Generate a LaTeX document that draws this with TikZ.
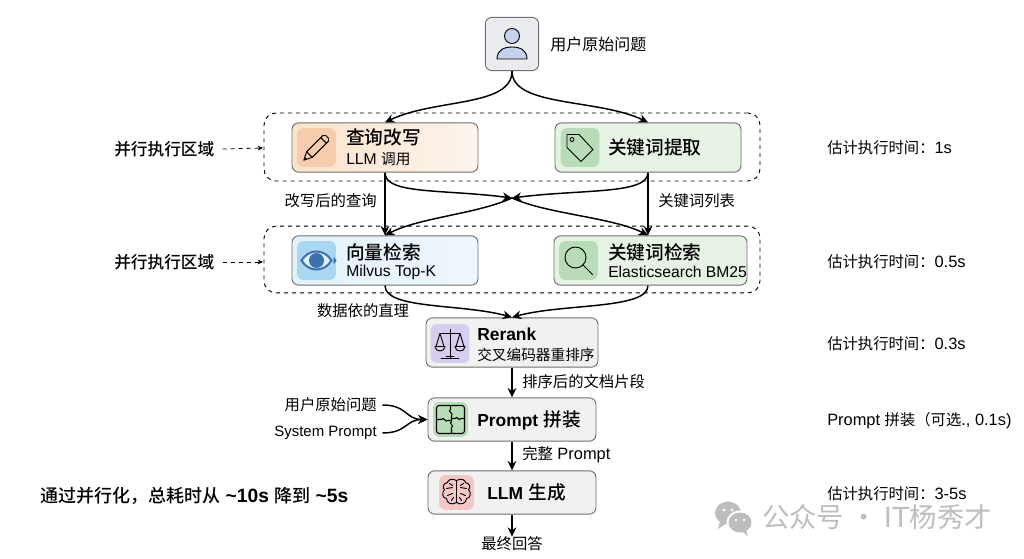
\documentclass[tikz,border=0pt]{standalone}
\usepackage{fontspec}
\usepackage{tikz}
\usetikzlibrary{arrows.meta}
\setmainfont[Scale=1.07]{Liberation Sans}
\newfontfamily\cjk[BoldFont={Noto Sans CJK SC Medium}]{Noto Sans CJK SC}
\newcommand{\zh}[1]{{\cjk #1}}
\newcommand{\en}[1]{{\fontsize{12.2}{14}\selectfont #1}}
\definecolor{edgegray}{HTML}{6E6E6E}
\definecolor{boxgray}{HTML}{F1F1F1}
\definecolor{boxuser}{HTML}{EBECF0}
\definecolor{boxorange}{HTML}{FBEDE0}
\definecolor{boxgreen}{HTML}{E6F2E4}
\definecolor{boxblue}{HTML}{E2F1FA}
\definecolor{iconorange}{HTML}{F5CDAC}
\definecolor{icongreen}{HTML}{B9DCB8}
\definecolor{iconblue}{HTML}{A9D6F1}
\definecolor{iconpurple}{HTML}{D7CDEE}
\definecolor{iconred}{HTML}{F4C6C6}
\definecolor{personblue}{HTML}{C5D2EE}
\definecolor{eyeblue}{HTML}{3F70AE}
\definecolor{markgray}{HTML}{BDBDBD}
\tikzset{
	box/.style={draw=edgegray, line width=0.7pt, rounded corners=5pt, inner sep=0pt},
	region/.style={draw=black, dashed, line width=0.7pt, rounded corners=9pt, minimum width=372pt, inner sep=0pt},
	iconbg/.style={rounded corners=4pt, minimum width=29pt, minimum height=29pt, inner sep=0pt},
	title/.style={anchor=west, inner sep=0pt, font=\fontsize{14}{16}\selectfont\bfseries},
	subtitle/.style={anchor=west, inner sep=0pt, font=\fontsize{11}{13}\selectfont},
	note/.style={anchor=west, inner sep=0pt, font=\fontsize{11.5}{13}\selectfont},
	label/.style={inner sep=0pt, font=\fontsize{11.5}{13}\selectfont},
	side/.style={anchor=west, inner sep=0pt, font=\fontsize{12.5}{15}\selectfont\bfseries},
	flow/.style={-{Stealth[length=7pt,width=6.5pt]}, line width=1.1pt},
	hint/.style={-{Stealth[length=4pt,width=3.5pt]}, dashed, line width=0.6pt},
	glyph/.style={line width=0.7pt, line join=round, line cap=round}
}
\begin{document}
\begin{tikzpicture}[x=0.75pt, y=-0.75pt]
	\useasboundingbox (0,0) rectangle (1024,559);

	\node[region, minimum height=51pt] (rega) at (512,147) {};
	\node[region, minimum height=50pt] (regb) at (512,259.5) {};

	\node[box, fill=boxuser, minimum width=40pt, minimum height=40pt] (user) at (512,44) {};
	\node[box, left color=boxorange!90!orange, right color=boxorange!60!white, minimum width=139.5pt, minimum height=37pt] (rewrite) at (385,147.5) {};
	\node[box, fill=boxgreen, minimum width=139.5pt, minimum height=37pt] (keyword) at (648,147.5) {};
	\node[box, left color=boxblue, right color=boxblue!60!white, minimum width=139.5pt, minimum height=37pt] (vector) at (385,260.5) {};
	\node[box, fill=boxgreen, minimum width=144.75pt, minimum height=37pt] (kwsearch) at (650.5,260.5) {};
	\node[box, fill=boxgray, minimum width=129pt, minimum height=37pt] (rerank) at (512,342.5) {};
	\node[box, fill=boxgray, minimum width=126pt, minimum height=32.5pt] (prompt) at (512,419.5) {};
	\node[box, fill=boxgray, minimum width=126pt, minimum height=32.5pt] (llm) at (512,492.5) {};

	\node[iconbg, fill=iconorange] (icona) at (316.5,147.5) {};
	\node[iconbg, fill=icongreen] (iconb) at (580,147.5) {};
	\node[iconbg, fill=iconblue] (iconc) at (316.5,260.5) {};
	\node[iconbg, fill=icongreen] (icond) at (578.5,260.5) {};
	\node[iconbg, fill=iconpurple] (icone) at (450,343.5) {};
	\node[iconbg, fill=icongreen, minimum width=26pt, minimum height=26pt] (iconf) at (450.5,419.5) {};
	\node[iconbg, fill=iconred, minimum width=26pt, minimum height=26pt] (icong) at (456.5,492.5) {};

	% person
	\begin{scope}[shift={(512,44)}, glyph]
		\draw[fill=personblue] (0,-8) circle (7.5);
		\draw[fill=personblue] (-15,15) .. controls (-15,6) and (-8,3) .. (0,3) .. controls (8,3) and (15,6) .. (15,15) -- cycle;
	\end{scope}
	% pencil
	\begin{scope}[shift={(icona)}, glyph, rotate=45]
		\draw (-18,0) -- (-10,-4) -- (13,-4) -- (15,-2) -- (15,2) -- (13,4) -- (-10,4) -- cycle;
		\draw (-10,-4) -- (-10,4) (10,-4) -- (10,4);
		\fill (-18,0) -- (-15,-1.5) -- (-15,1.5) -- cycle;
	\end{scope}
	% tag
	\begin{scope}[shift={(iconb)}, glyph]
		\draw (-13,-13) -- (-1,-13) -- (13,2) -- (1,14) -- (-13,0) -- cycle;
		\draw (-8,-8) circle (2);
	\end{scope}
	% eye
	\begin{scope}[shift={(iconc)}]
		\fill[iconblue!40!white] (-15,0) .. controls (-8,-12) and (8,-12) .. (15,0) .. controls (8,12) and (-8,12) .. (-15,0) -- cycle;
		\draw[eyeblue, line width=1.5pt] (-15,0) .. controls (-8,-12) and (8,-12) .. (15,0) .. controls (8,12) and (-8,12) .. (-15,0) -- cycle;
		\fill[eyeblue] (0,0) circle (7.5);
		\fill[eyeblue] (17,-4) -- (20,0) -- (17,4) -- cycle;
	\end{scope}
	% magnifier
	\begin{scope}[shift={(icond)}, glyph]
		\draw (-3,-3) circle (10.5);
		\draw (4.5,4.5) -- (14,14);
	\end{scope}
	% scales
	\begin{scope}[shift={(icone)}, glyph]
		\draw (0,-14) -- (0,14) (-9,15) -- (9,15) (-4,13) -- (4,13);
		\draw (-10,-10) -- (10,-10);
		\draw (-14,3) -- (-10,-10) -- (-6,3) (14,3) -- (10,-10) -- (6,3);
		\draw (-15,3) -- (-5,3) .. controls (-5,9) and (-15,9) .. (-15,3);
		\draw (5,3) -- (15,3) .. controls (15,9) and (5,9) .. (5,3);
	\end{scope}
	% puzzle
	\begin{scope}[shift={(iconf)}, glyph, line width=0.8pt]
		\draw[rounded corners=2pt] (-14,-14) rectangle (14,14);
		\draw (0,-14) -- (0,-10) .. controls (-4,-8) and (4,-6) .. (1,-4) -- (1,2) .. controls (-3,4) and (5,6) .. (1,8) -- (1,14);
		\draw (-14,0) -- (-9,0) .. controls (-8,-4) and (-4,4) .. (-3,1) -- (1,1);
		\draw (1,-1) -- (5,-1) .. controls (6,-5) and (9,3) .. (10,-1) -- (14,-1);
	\end{scope}
	% brain
	\begin{scope}[shift={(icong)}, glyph]
		\draw (0,-12) .. controls (-5,-15) and (-9,-12) .. (-9,-10) .. controls (-14,-9) and (-14,-4) .. (-12,-3) .. controls (-15,0) and (-14,6) .. (-10,6) .. controls (-10,11) and (-4,13) .. (0,10);
		\draw (0,-12) .. controls (5,-15) and (9,-12) .. (9,-10) .. controls (14,-9) and (14,-4) .. (12,-3) .. controls (15,0) and (14,6) .. (10,6) .. controls (10,11) and (4,13) .. (0,10);
		\draw (0,-12) -- (0,10);
		\draw (-10,-4) -- (-4,-5) (-9,3) -- (-4,1) (-7,-9) -- (-4,-7) (-5,8) -- (-3,5);
		\draw (10,-4) -- (4,-5) (9,3) -- (4,1) (7,-9) -- (4,-7) (5,8) -- (3,5);
	\end{scope}

	\node[note, font=\fontsize{12}{14}\selectfont] (userlab) at (550,44) {\zh{用户原始问题}};
	\node[title] (ta) at (346,137) {\zh{查询改写}};
	\node[subtitle] (sa) at (346,159) {LLM \zh{调用}};
	\node[title] (tb) at (608,147.5) {\zh{关键词提取}};
	\node[title] (tc) at (346,252) {\zh{向量检索}};
	\node[subtitle] (sc) at (346,272) {Milvus Top-K};
	\node[title] (td) at (608,252) {\zh{关键词检索}};
	\node[subtitle] (sd) at (608,272) {Elasticsearch BM25};
	\node[title] (te) at (477,334) {\en{Rerank}};
	\node[subtitle] (se) at (477,355) {\zh{交叉编码器重排序}};
	\node[title] (tf) at (477,420) {\en{Prompt} \zh{拼装}};
	\node[title] (tg) at (487,492.5) {\en{LLM} \zh{生成}};

	\node[side] (para) at (114,149) {\zh{并行执行区域}};
	\node[side] (parb) at (114,262) {\zh{并行执行区域}};
	\coordinate (heada) at (263,148);
	\coordinate (headb) at (263,262);
	\draw[hint] (para.east) ++(8,0) -- (heada);
	\draw[hint] (parb.east) ++(8,0) -- (headb);

	\node[note] (tima) at (827,148) {\zh{估计执行时间：}1s};
	\node[note] (timb) at (827,262) {\zh{估计执行时间：}0.5s};
	\node[note] (timc) at (827,344) {\zh{估计执行时间：}0.3s};
	\node[note] (timd) at (827,421) {Prompt \zh{拼装（可选}., 0.1s)};
	\node[note] (time) at (827,494) {\zh{估计执行时间：}3-5s};

	\node[label, anchor=east] (labq) at (377,201) {\zh{改写后的查询}};
	\node[label, anchor=west] (labk) at (658,201) {\zh{关键词列表}};
	\node[label] (labd) at (363,311) {\zh{数据依的直理}};
	\node[label, anchor=west] (labs) at (522,382) {\zh{排序后的文档片段}};
	\node[label, anchor=west] (labp) at (522,455) {\zh{完整} Prompt};
	\node[label] (answer) at (512,544) {\zh{最终回答}};
	\node[label, anchor=east] (inq) at (377,405) {\zh{用户原始问题}};
	\node[label, anchor=east, font=\fontsize{10.5}{13}\selectfont] (ins) at (377,433) {System Prompt};

	\node[side, font=\fontsize{13.5}{16}\selectfont\bfseries] (summary) at (40,496) {\zh{通过并行化，总耗时从} \textasciitilde 10s \zh{降到} \textasciitilde 5s};

	% watermark
	\begin{scope}[shift={(733,517)}, markgray]
		\fill (-5,-4) ellipse (13 and 11.5);
		\fill (-13,4) -- (-15,12) -- (-6,6) -- cycle;
		\fill[white] (7,5.5) ellipse (13.5 and 12);
		\fill (7,5.5) ellipse (11.5 and 10);
		\fill (13,13) -- (15,19) -- (8,14) -- cycle;
		\fill[white] (-9,-7) circle (1.6) (-1,-7) circle (1.6) (3,3) circle (1.4) (11,3) circle (1.4);
	\end{scope}
	\node[anchor=west, inner sep=0pt, text=markgray, font=\fontsize{20.5}{25}\selectfont] (mark) at (762,517) {\zh{公众号 · }IT\zh{杨秀才}};

	% connectors
	\draw[flow] (user.south) .. controls +(0,36) and +(50,-24) .. (rewrite.north);
	\draw[flow] (user.south) .. controls +(0,36) and +(-50,-24) .. (keyword.north);
	\draw[flow] (rewrite.south) -- (rewrite |- vector.north);
	\draw[flow] (keyword.south) -- (keyword |- kwsearch.north);
	\coordinate (cross) at (512,198);
	\draw[flow] (rewrite.south) .. controls +(0,22) and +(-70,-9) .. (cross);
	\draw[flow] (keyword.south) .. controls +(0,22) and +(70,-9) .. (cross);
	\draw[flow] (cross) .. controls +(-35,16) and +(35,-18) .. (rewrite |- vector.north);
	\draw[flow] (cross) .. controls +(35,16) and +(-35,-18) .. (keyword |- kwsearch.north);
	\draw[flow] (vector.south) .. controls +(0,24) and +(-50,-14) .. (rerank.north);
	\draw[flow] (keyword |- kwsearch.south) .. controls +(0,24) and +(50,-14) .. (rerank.north);
	\draw[flow] (rerank.south) -- (prompt.north);
	\draw[flow] (prompt.south) -- (llm.north);
	\draw[flow] (llm.south) -- (answer.north);
	\draw[flow] ([xshift=4pt]inq.east) .. controls +(25,0) and +(-22,0) .. (prompt.west);
	\draw[flow] ([xshift=4pt]ins.east) .. controls +(25,0) and +(-22,0) .. (prompt.west);
\end{tikzpicture}
\end{document}
